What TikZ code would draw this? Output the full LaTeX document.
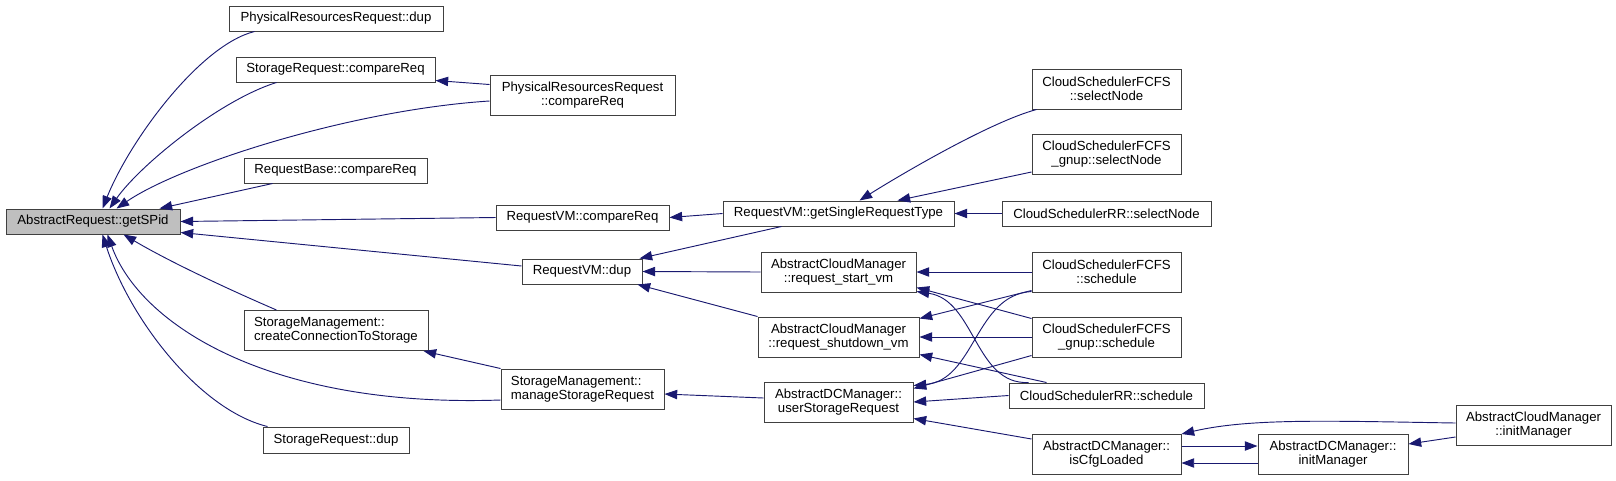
\documentclass[tikz,border=0pt]{standalone}
\usepackage{fontspec}
\setmainfont{Liberation Sans}
\usetikzlibrary{arrows.meta,calc}
\definecolor{edgec}{HTML}{191970}
\definecolor{boxc}{HTML}{404040}
\begin{document}
\begin{tikzpicture}[x=0.75pt,y=-0.75pt,
  box/.style={draw=boxc,line width=0.75pt,fill=white,inner sep=0pt,font=\fontsize{9.9pt}{10.5pt}\selectfont,align=center,minimum height=18.75pt},
  tall/.style={minimum height=30pt},
  e/.style={draw=edgec,line width=0.7pt,{Triangle[length=9.5pt,width=7pt]}-}]
\useasboundingbox (0,0) rectangle (1616,480);
% nodes
\node[box,fill=black!25,minimum width=130.5pt] (getSPid) at (93,221.5) {AbstractRequest::getSPid};
\node[box,minimum width=160.5pt] (prdup) at (336,18.5) {PhysicalResourcesRequest::dup};
\node[box,minimum width=149.25pt] (srcmp) at (335.5,69.5) {StorageRequest::compareReq};
\node[box,minimum width=137.25pt] (rbcmp) at (335.5,170.5) {RequestBase::compareReq};
\node[box,tall,minimum width=138pt,align=left] (ccs) at (336,330.5) {StorageManagement::\\createConnectionToStorage};
\node[box,minimum width=109.5pt,minimum height=19.5pt] (srdup) at (336,440) {StorageRequest::dup};
\node[box,tall,minimum width=138.75pt] (prcmp) at (582.5,95) {PhysicalResourcesRequest\\::compareReq};
\node[box,minimum width=129.75pt] (rvcmp) at (582.5,217.5) {RequestVM::compareReq};
\node[box,minimum width=90pt] (rvdup) at (582,271.5) {RequestVM::dup};
\node[box,tall,minimum width=122.25pt,align=left] (msr) at (582.5,389) {StorageManagement::\\manageStorageRequest};
\node[box,minimum width=173.25pt] (gsrt) at (838.5,213.5) {RequestVM::getSingleRequestType};
\node[box,tall,minimum width=116.25pt] (startvm) at (838.5,272) {AbstractCloudManager\\::request\_start\_vm};
\node[box,tall,minimum width=120.75pt] (shutvm) at (838.5,337) {AbstractCloudManager\\::request\_shutdown\_vm};
\node[box,tall,minimum width=111.75pt] (usr) at (838.5,402) {AbstractDCManager::\\userStorageRequest};
\node[box,tall,minimum width=111.75pt] (fcfssel) at (1106.5,89) {CloudSchedulerFCFS\\::selectNode};
\node[box,tall,minimum width=111.75pt] (gnupsel) at (1106.5,154.5) {CloudSchedulerFCFS\\\_gnup::selectNode};
\node[box,minimum width=156.75pt] (rrsel) at (1106.5,213.5) {CloudSchedulerRR::selectNode};
\node[box,tall,minimum width=111.75pt] (fcfssch) at (1106.5,272) {CloudSchedulerFCFS\\::schedule};
\node[box,tall,minimum width=111.75pt] (gnupsch) at (1106.5,337) {CloudSchedulerFCFS\\\_gnup::schedule};
\node[box,minimum width=146.25pt] (rrsch) at (1106.5,395.5) {CloudSchedulerRR::schedule};
\node[box,tall,minimum width=111.75pt] (cfg) at (1106.5,454.5) {AbstractDCManager::\\isCfgLoaded};
\node[box,tall,minimum width=112.5pt] (dcinit) at (1333,454.5) {AbstractDCManager::\\initManager};
\node[box,tall,minimum width=116.25pt] (cminit) at (1533.5,425) {AbstractCloudManager\\::initManager};
% edges into getSPid
\draw[e] ($(getSPid.north west)+(97,0)$) .. controls (130,140) and (200,45) .. ($(prdup.south west)+(26,0)$);
\draw[e] ($(getSPid.north west)+(104,0)$) .. controls (140,165) and (220,100) .. ($(srcmp.south west)+(41,0)$);
\draw[e] ($(getSPid.north west)+(111,0)$) .. controls (180,165) and (350,110) .. ($(prcmp.west)+(0,6)$);
\draw[e] ($(srcmp.south east)+(0,-2)$) -- ($(prcmp.north west)+(0,10)$);
\draw[e] ($(getSPid.north west)+(154,0)$) -- ($(rbcmp.south west)+(29,0)$);
\draw[e] (getSPid.east) -- (rvcmp.west);
\draw[e] ($(getSPid.south east)+(0,-2)$) -- ($(rvdup.west)+(0,-5.5)$);
\draw[e] ($(getSPid.south west)+(118,0)$) .. controls (170,262) and (230,290) .. ($(ccs.north west)+(33,0)$);
\draw[e] ($(getSPid.south west)+(102,0)$) .. controls (140,325) and (270,408) .. ($(msr.west)+(0,11)$);
\draw[e] ($(ccs.south east)+(-5,0)$) -- (msr.north west);
\draw[e] ($(getSPid.south west)+(97,0)$) .. controls (130,320) and (200,410) .. ($(srdup.north west)+(5,0)$);
% second level
\draw[e] (rvcmp.east) -- (gsrt.west);
\draw[e] ($(rvdup.north east)+(-3,0)$) -- ($(gsrt.south west)+(59,0)$);
\draw[e] (rvdup.east) -- (startvm.west);
\draw[e] ($(rvdup.south east)+(-5,0)$) -- (shutvm.north west);
\draw[e] ($(msr.east)+(0,5)$) -- ($(usr.west)+(0,-4)$);
% third level
\draw[e] ($(gsrt.north west)+(137,0)$) .. controls (900,175) and (990,122) .. ($(fcfssel.south west)+(5,0)$);
\draw[e] ($(gsrt.north west)+(175,0)$) -- ($(gnupsel.south west)+(0,-3)$);
\draw[e] (gsrt.east) -- (rrsel.west);
\draw[e] (startvm.east) -- (fcfssch.west);
\draw[e] ($(startvm.south east)+(0,-5)$) -- ($(gnupsch.north west)+(0,2)$);
\draw[e] ($(startvm.south east)+(0,-1)$) .. controls (975,300) and (975,385) .. ($(rrsch.north west)+(20,0)$);
\draw[e] ($(shutvm.north east)+(0,2)$) -- ($(fcfssch.south west)+(0,-2)$);
\draw[e] (shutvm.east) -- (gnupsch.west);
\draw[e] ($(shutvm.south east)+(0,-3)$) -- ($(rrsch.north west)+(38,0)$);
\draw[e] ($(usr.north east)+(0,4)$) .. controls (975,380) and (975,295) .. ($(fcfssch.south west)+(0,-1)$);
\draw[e] ($(usr.north east)+(0,7)$) -- ($(gnupsch.south west)+(0,-2)$);
\draw[e] (usr.east) -- (rrsch.west);
\draw[e] ($(usr.south east)+(0,-4)$) -- ($(cfg.north west)+(0,5)$);
% fourth level
\draw[e] (cfg.north east) .. controls (1250,418) and (1330,421) .. ($(cminit.west)+(0,-2)$);
\draw[e] ($(dcinit.west)+(0,-8.5)$) -- ($(cfg.east)+(0,-8.5)$);
\draw[e] ($(cfg.east)+(0,8.5)$) -- ($(dcinit.west)+(0,8.5)$);
\draw[e] ($(dcinit.east)+(0,-10.5)$) -- ($(cminit.west)+(0,12)$);
\end{tikzpicture}
\end{document}
